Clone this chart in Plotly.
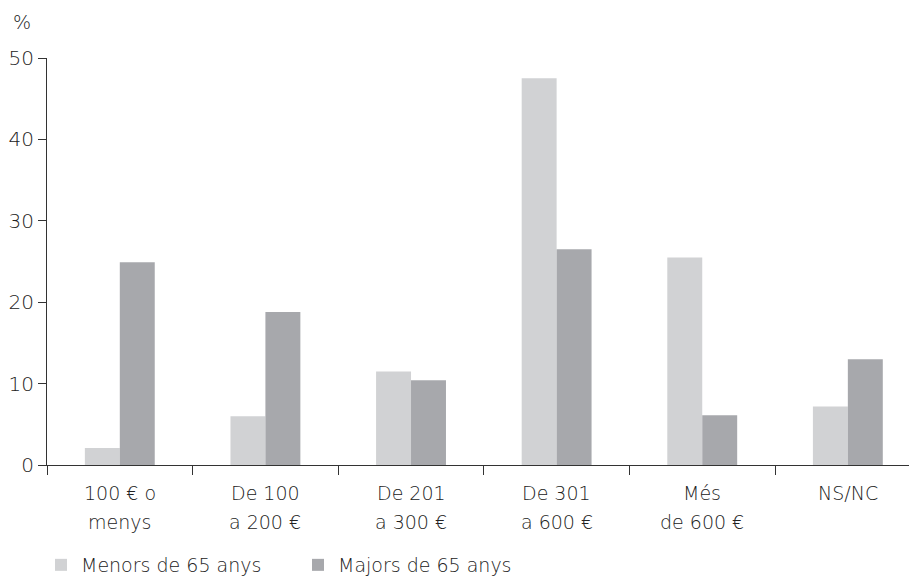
import plotly.graph_objects as go

categories = ["100 € o menys", "De 100 a 200 €", "De 201 a 300 €", "De 301 a 600 €", "Més de 600 €", "NS/NC"]
label_line1 = ["100 € o", "De 100", "De 201", "De 301", "Més", "NS/NC"]
label_line2 = ["menys", "a 200 €", "a 300 €", "a 600 €", "de 600 €", ""]
menors = [2.1, 6.0, 11.5, 47.5, 25.5, 7.2]
majors = [24.9, 18.8, 10.4, 26.5, 6.1, 13.0]
series_names = ["Menors de 65 anys", "Majors de 65 anys"]
series_colors = ["#d1d2d4", "#a7a8ac"]
y_ticks = [0, 10, 20, 30, 40, 50]

FONT = "DejaVu Sans"
TXT = "#222222"
W = 300

fig = go.Figure()
for vals, name, col in zip([menors, majors], series_names, series_colors):
    fig.add_trace(go.Bar(x=categories, y=vals, name=name, marker_color=col,
                         marker_line_width=0, showlegend=False))
# legend entries (square swatches)
for name, col in zip(series_names, series_colors):
    fig.add_trace(go.Scatter(x=[None], y=[None], mode="markers", name=name,
                             marker=dict(symbol="square", size=16, color=col, line_width=0)))

annotations = []
for c, l1, l2 in zip(categories, label_line1, label_line2):
    annotations.append(dict(x=c, xref="x", y=0, yref="paper", text=l1, showarrow=False,
                            yanchor="middle", yshift=-28,
                            font=dict(size=19, color=TXT, family=FONT, weight=W)))
    if l2:
        annotations.append(dict(x=c, xref="x", y=0, yref="paper", text=l2, showarrow=False,
                                yanchor="middle", yshift=-57,
                                font=dict(size=19, color=TXT, family=FONT, weight=W)))
annotations.append(dict(x=0, xref="paper", y=1, yref="paper", text="%", showarrow=False,
                        xanchor="right", xshift=-14, yanchor="middle", yshift=36,
                        font=dict(size=19, color=TXT, family=FONT, weight=W)))

fig.update_layout(
    width=909, height=579,
    margin=dict(l=47, r=0, t=58, b=114, autoexpand=False),
    paper_bgcolor="white", plot_bgcolor="white",
    barmode="group", bargap=0.52, bargroupgap=0,
    font=dict(family=FONT, size=19, color=TXT, weight=W),
    showlegend=True,
    legend=dict(orientation="h", x=-6 / 862, xanchor="left", y=-100 / 407, yanchor="middle",
                font=dict(size=19, color=TXT, family=FONT, weight=W), itemsizing="constant",
                entrywidth=212, entrywidthmode="pixels", traceorder="normal"),
    annotations=annotations,
)
fig.update_xaxes(type="category", range=[-0.5, 5.42], showline=True, linecolor="#333333", linewidth=1.2,
                 ticks="outside", tickson="boundaries", ticklen=9, tickcolor="#333333", tickwidth=1.2,
                 showticklabels=False, showgrid=False, zeroline=False)
fig.update_yaxes(range=[0, 50], tickvals=y_ticks, showline=True, linecolor="#333333", linewidth=1.2,
                 ticks="outside", ticklen=8, tickcolor="#333333", tickwidth=1.2,
                 tickfont=dict(size=20, color=TXT, family=FONT, weight=W), showgrid=False, zeroline=False)

fig.write_html("out.html", config={"displayModeBar": False},
               post_script="document.body.style.margin='0px';document.body.style.overflow='hidden';")
